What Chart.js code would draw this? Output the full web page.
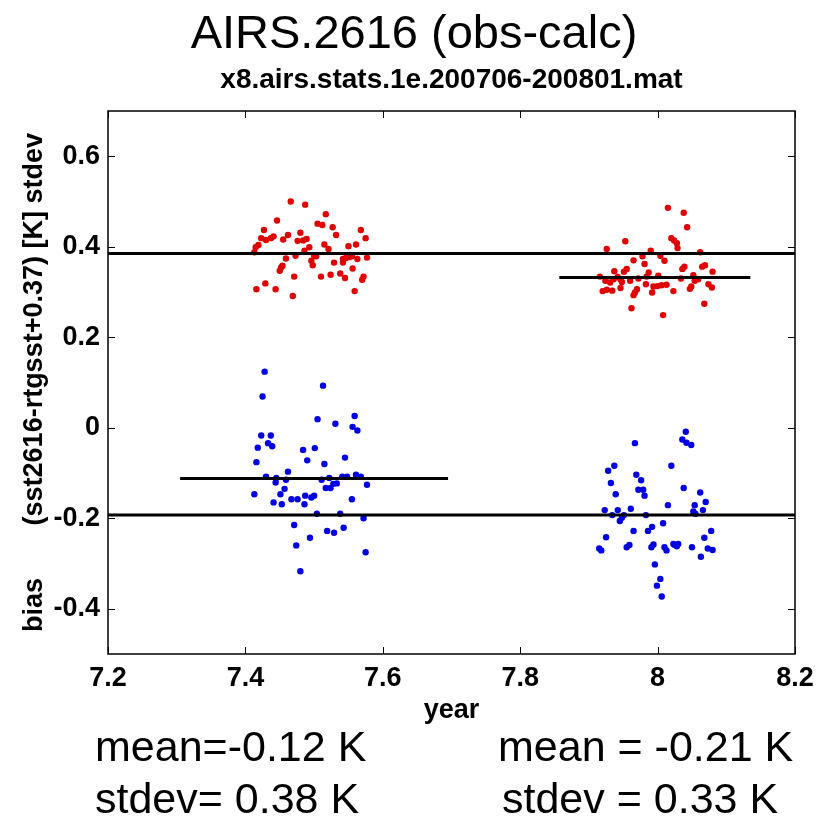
<!DOCTYPE html>
<html lang="en">
<head>
  <meta charset="UTF-8">
  <title>AIRS.2616 (obs-calc)</title>
  <script src="https://cdn.jsdelivr.net/npm/chart.js"></script>
  <style>
    html, body { margin: 0; padding: 0; background: #fff; }
    #wrap { width: 828px; height: 816px; }
  </style>
</head>
<body>
  <div id="wrap"><canvas id="statsChart" width="828" height="816"></canvas></div>

  <script>
    // axis ticks
    const yearTicks = [7.2, 7.4, 7.6, 7.8, 8.0, 8.2];
    const kelvinTicks = [-0.4, -0.2, 0, 0.2, 0.4, 0.6];

    // stdev per granule (red), both periods
    const stdevYear = [
      7.466, 7.487, 7.446, 7.517, 7.427, 7.505, 7.512, 7.527, 7.532, 7.568,
      7.575, 7.423, 7.430, 7.437, 7.441, 7.419, 7.415, 7.462, 7.455, 7.480,
      7.476, 7.484, 7.489, 7.493, 7.515, 7.521, 7.550, 7.561, 7.413, 7.486,
      7.500, 7.503, 7.473, 7.459, 7.452, 7.450, 7.454, 7.496, 7.498, 7.529,
      7.542, 7.546, 7.551, 7.555, 7.563, 7.577, 7.542, 7.556, 7.471, 7.510,
      7.524, 7.538, 7.545, 7.572, 7.570, 7.429, 7.416, 7.444, 7.469, 7.559,
      8.015, 8.038, 8.043, 7.953, 8.020, 8.024, 8.028, 8.029, 7.926, 7.990,
      8.062, 8.004, 8.010, 7.965, 7.978, 7.981, 8.069, 8.065, 8.080, 8.039,
      8.036, 7.955, 7.951, 7.937, 7.916, 7.924, 7.931, 7.936, 7.942, 7.946,
      7.948, 7.960, 7.972, 7.984, 8.001, 8.052, 8.059, 8.054, 8.034, 7.926,
      7.920, 7.934, 7.946, 7.970, 7.967, 7.965, 7.983, 7.994, 8.000, 8.006,
      8.013, 7.992, 8.023, 8.049, 8.047, 8.074, 8.079, 7.962, 8.008, 8.068,
      7.987
    ];
    const stdevK = [
      0.500, 0.493, 0.458, 0.472, 0.437, 0.451, 0.448, 0.443, 0.426, 0.437,
      0.419, 0.419, 0.415, 0.419, 0.423, 0.404, 0.399, 0.426, 0.416, 0.431,
      0.413, 0.414, 0.417, 0.399, 0.405, 0.395, 0.401, 0.405, 0.388, 0.391,
      0.380, 0.379, 0.380, 0.374, 0.354, 0.347, 0.358, 0.369, 0.359, 0.365,
      0.373, 0.375, 0.377, 0.379, 0.373, 0.376, 0.365, 0.352, 0.334, 0.334,
      0.338, 0.341, 0.331, 0.334, 0.327, 0.319, 0.306, 0.306, 0.291, 0.302,
      0.486, 0.475, 0.443, 0.412, 0.419, 0.414, 0.408, 0.397, 0.395, 0.391,
      0.388, 0.380, 0.369, 0.370, 0.379, 0.362, 0.359, 0.356, 0.345, 0.356,
      0.351, 0.351, 0.345, 0.346, 0.334, 0.325, 0.321, 0.328, 0.333, 0.328,
      0.322, 0.325, 0.330, 0.334, 0.336, 0.337, 0.328, 0.325, 0.330, 0.305,
      0.302, 0.303, 0.309, 0.306, 0.299, 0.293, 0.317, 0.312, 0.313, 0.315,
      0.316, 0.299, 0.302, 0.312, 0.307, 0.317, 0.310, 0.264, 0.249, 0.274,
      0.343
    ];

    // bias per granule (blue), both periods
    const biasYear = [
      7.428, 7.513, 7.425, 7.559, 7.505, 7.531, 7.556, 7.563, 7.423, 7.437,
      7.433, 7.439, 7.418, 7.484, 7.501, 7.490, 7.416, 7.515, 7.545, 7.462,
      7.430, 7.445, 7.459, 7.444, 7.457, 7.451, 7.413, 7.453, 7.441, 7.467,
      7.476, 7.486, 7.487, 7.496, 7.500, 7.555, 7.511, 7.517, 7.524, 7.528,
      7.533, 7.541, 7.548, 7.561, 7.568, 7.577, 7.504, 7.538, 7.572, 7.471,
      7.519, 7.529, 7.543, 7.494, 7.474, 7.575, 7.480, 7.522,
      8.041, 8.036, 8.042, 8.049, 7.967, 7.937, 7.928, 8.020, 7.932, 7.969,
      7.976, 7.939, 7.972, 7.979, 7.981, 8.038, 8.062, 8.070, 8.054, 8.015,
      7.923, 7.942, 7.961, 8.052, 8.066, 8.055, 7.934, 7.948, 7.951, 7.945,
      7.983, 8.008, 7.992, 7.986, 7.965, 8.078, 8.068, 7.925, 7.918, 7.915,
      7.959, 7.955, 7.991, 7.994, 8.010, 8.013, 8.025, 8.030, 8.028, 8.023,
      8.050, 8.073, 8.080, 8.063, 7.996, 8.004, 7.999, 8.006
    ];
    const biasK = [
      0.124, 0.093, 0.069, 0.026, 0.019, 0.009, 0.002, -0.006, -0.017, -0.017,
      -0.034, -0.041, -0.044, -0.049, -0.045, -0.072, -0.076, -0.080, -0.066, -0.097,
      -0.108, -0.111, -0.115, -0.121, -0.135, -0.147, -0.147, -0.169, -0.165, -0.158,
      -0.158, -0.169, -0.150, -0.154, -0.150, -0.158, -0.115, -0.133, -0.133, -0.124,
      -0.123, -0.108, -0.108, -0.104, -0.108, -0.126, -0.190, -0.190, -0.200, -0.215,
      -0.228, -0.232, -0.221, -0.243, -0.260, -0.275, -0.317, -0.111,
      -0.009, -0.026, -0.033, -0.038, -0.034, -0.084, -0.095, -0.084, -0.122, -0.104,
      -0.116, -0.147, -0.137, -0.137, -0.150, -0.133, -0.143, -0.164, -0.171, -0.171,
      -0.182, -0.182, -0.179, -0.185, -0.182, -0.190, -0.193, -0.199, -0.193, -0.206,
      -0.193, -0.211, -0.219, -0.228, -0.228, -0.228, -0.243, -0.242, -0.271, -0.267,
      -0.259, -0.264, -0.264, -0.258, -0.264, -0.271, -0.259, -0.257, -0.262, -0.257,
      -0.264, -0.267, -0.270, -0.285, -0.302, -0.334, -0.349, -0.373
    ];

    // horizontal mean / stdev reference lines
    const refY  = [0.385, 0.332, -0.112, -0.193];
    const refX0 = [7.2, 7.857, 7.305, 7.2];
    const refX1 = [8.2, 8.135, 7.695, 8.2];

    // summary text under the plot
    const leftStats  = ['mean=-0.12 K', 'stdev= 0.38 K'];
    const rightStats = ['mean = -0.21 K', 'stdev = 0.33 K'];

    const FONT = '"Liberation Sans", Arial, sans-serif';
    const toPoints = (xs, ys) => xs.map((x, i) => ({ x, y: ys[i] }));

    const lineSets = refY.map((y, i) => ({
      data: [{ x: refX0[i], y }, { x: refX1[i], y }],
      showLine: true,
      borderColor: '#000',
      borderWidth: 3,
      pointRadius: 0,
      order: 0
    }));

    // matlab style box with inward ticks
    const boxPlugin = {
      id: 'box',
      afterDatasetsDraw(chart) {
        const { ctx, chartArea: a, scales } = chart;
        ctx.save();
        ctx.strokeStyle = '#000';
        ctx.lineWidth = 1.5;
        ctx.strokeRect(a.left, a.top, a.right - a.left, a.bottom - a.top);
        ctx.lineWidth = 1;
        ctx.beginPath();
        yearTicks.forEach(v => {
          const px = Math.round(scales.x.getPixelForValue(v)) + 0.5;
          ctx.moveTo(px, a.bottom); ctx.lineTo(px, a.bottom - 7);
          ctx.moveTo(px, a.top); ctx.lineTo(px, a.top + 7);
        });
        kelvinTicks.forEach(v => {
          const py = Math.round(scales.y.getPixelForValue(v)) + 0.5;
          ctx.moveTo(a.left, py); ctx.lineTo(a.left + 7, py);
          ctx.moveTo(a.right, py); ctx.lineTo(a.right - 7, py);
        });
        ctx.stroke();
        ctx.restore();
      }
    };

    const statsPlugin = {
      id: 'stats',
      afterDraw(chart) {
        const ctx = chart.ctx;
        ctx.save();
        ctx.fillStyle = '#000';
        ctx.font = '43px ' + FONT;
        ctx.textBaseline = 'alphabetic';
        ctx.textAlign = 'left';
        ctx.fillText(leftStats[0], 95, 761);
        ctx.fillText(leftStats[1], 95, 813);
        ctx.fillText(rightStats[0], 498, 761);
        ctx.fillText(rightStats[1], 502, 813);
        ctx.restore();
      }
    };

    const ctx = document.getElementById('statsChart').getContext('2d');
    const chart = new Chart(ctx, {
      type: 'scatter',
      data: {
        datasets: [
          ...lineSets,
          {
            data: toPoints(stdevYear, stdevK),
            backgroundColor: 'rgb(225,0,0)',
            borderWidth: 0,
            pointRadius: 3.2,
            order: 1
          },
          {
            data: toPoints(biasYear, biasK),
            backgroundColor: 'rgb(0,0,225)',
            borderWidth: 0,
            pointRadius: 3.2,
            order: 1
          }
        ]
      },
      options: {
        responsive: false,
        animation: false,
        layout: { padding: { left: 17, right: 17, top: 0, bottom: 84 } },
        plugins: {
          legend: { display: false },
          tooltip: { enabled: false },
          title: {
            display: true,
            text: 'AIRS.2616 (obs-calc)',
            color: '#000',
            font: { family: FONT, size: 47, weight: 'normal', lineHeight: 1 },
            padding: { top: 12, bottom: 0 }
          },
          subtitle: {
            display: true,
            fullSize: false,
            text: 'x8.airs.stats.1e.200706-200801.mat',
            color: '#000',
            font: { family: FONT, size: 28, weight: 'bold', lineHeight: 1 },
            padding: { top: 7, bottom: 17 }
          }
        },
        scales: {
          x: {
            type: 'linear',
            min: 7.2,
            max: 8.2,
            afterBuildTicks: s => { s.ticks = yearTicks.map(v => ({ value: v })); },
            afterFit: s => { s.height = 78; },
            grid: { display: false, drawTicks: false },
            border: { display: false },
            ticks: {
              color: '#000',
              padding: 8,
              maxRotation: 0,
              font: { family: FONT, size: 27, weight: 'bold' },
              callback: v => String(Math.round(v * 10) / 10)
            },
            title: {
              display: true,
              text: 'year',
              color: '#000',
              padding: { top: 0, bottom: 5 },
              font: { family: FONT, size: 27, weight: 'bold', lineHeight: 1.2 }
            }
          },
          y: {
            type: 'linear',
            min: -0.5,
            max: 0.7,
            afterBuildTicks: s => { s.ticks = kelvinTicks.map(v => ({ value: v })); },
            afterFit: s => { s.width = 91; },
            grid: { display: false, drawTicks: false },
            border: { display: false },
            ticks: {
              color: '#000',
              padding: 8,
              font: { family: FONT, size: 27, weight: 'bold' },
              callback: v => String(Math.round(v * 10) / 10)
            },
            title: {
              display: true,
              text: 'bias       (sst2616-rtgsst+0.37) [K] stdev',
              color: '#000',
              padding: { top: 1, bottom: 0 },
              font: { family: FONT, size: 27, weight: 'bold', lineHeight: 1.2 }
            }
          },
          y2: {
            type: 'linear',
            position: 'right',
            min: -0.5,
            max: 0.7,
            afterFit: s => { s.width = 16; },
            grid: { display: false, drawTicks: false },
            border: { display: false },
            ticks: { display: false }
          }
        }
      },
      plugins: [boxPlugin, statsPlugin]
    });
  </script>
</body>
</html>
